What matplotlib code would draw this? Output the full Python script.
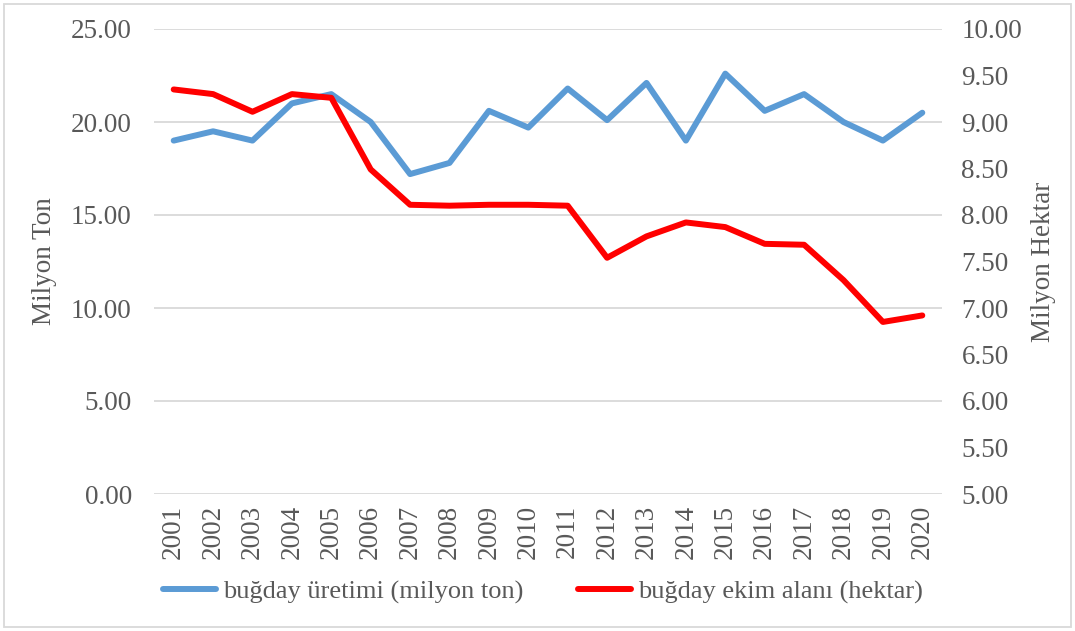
import matplotlib.pyplot as plt
from matplotlib.patches import Rectangle
import numpy as np

# Data
years = [str(y) for y in range(2001, 2021)]
uretim = [19.0, 19.5, 19.0, 21.0, 21.5, 20.0, 17.2, 17.8, 20.6, 19.7,
          21.8, 20.1, 22.1, 19.0, 22.6, 20.6, 21.5, 20.0, 19.0, 20.5]
ekim_alani = [9.35, 9.30, 9.11, 9.30, 9.26, 8.49, 8.11, 8.10, 8.11, 8.11,
              8.10, 7.54, 7.77, 7.92, 7.87, 7.69, 7.68, 7.30, 6.85, 6.92]

left_ticks = np.arange(0, 25.01, 5)
right_ticks = np.arange(5, 10.01, 0.5)

plt.rcParams['font.family'] = ['Liberation Serif', 'DejaVu Serif']
text_color = '#595959'
fs = 19.5

fig = plt.figure(figsize=(10.75, 6.31), dpi=100)
ax = fig.add_axes([154 / 1075, 1 - 494 / 631, (942 - 154) / 1075, (494 - 29) / 631])
ax2 = ax.twinx()

x = np.arange(len(years))
l1, = ax.plot(x, uretim, color='#5B9BD5', linewidth=4.3,
              solid_capstyle='round', solid_joinstyle='round',
              label='buğday üretimi (milyon ton)')
l2, = ax2.plot(x, ekim_alani, color='#FF0000', linewidth=4.3,
               solid_capstyle='round', solid_joinstyle='round',
               label='buğday ekim alanı (hektar)')

ax.set_xlim(-0.5, len(years) - 0.5)
ax.set_ylim(0, 25)
ax2.set_ylim(5, 10)
ax.set_yticks(left_ticks)
ax.set_yticklabels([f'{v:.2f}' for v in left_ticks])
ax2.set_yticks(right_ticks)
ax2.set_yticklabels([f'{v:.2f}' for v in right_ticks])
ax.set_xticks(x)
ax.set_xticklabels(years, rotation=90)

ax.grid(axis='y', color='#D9D9D9', linewidth=1.3)
ax.set_axisbelow(True)

for a in (ax, ax2):
    for s in a.spines.values():
        s.set_visible(False)
    a.tick_params(length=0, labelsize=fs, colors=text_color)
ax.tick_params(axis='y', pad=16)
ax2.tick_params(axis='y', pad=14)
ax.tick_params(axis='x', pad=8)

ax.set_ylabel('Milyon Ton', fontsize=fs, color=text_color, labelpad=10)
ax2.set_ylabel('Milyon Hektar', fontsize=fs, color=text_color, rotation=90, labelpad=6)

fig.legend([l1, l2], [l1.get_label(), l2.get_label()],
           loc='center', bbox_to_anchor=(0.505, 1 - 592 / 631), ncol=2,
           frameon=False, fontsize=19, labelcolor=text_color,
           handlelength=2.0, handletextpad=0.25, columnspacing=2.1)

fig.patches.append(Rectangle((4 / 1075, 4 / 631), 1 - 8 / 1075, 1 - 8 / 631,
                             transform=fig.transFigure, fill=False,
                             edgecolor='#D9D9D9', linewidth=1.3))

fig.savefig('out.png', dpi=100)
